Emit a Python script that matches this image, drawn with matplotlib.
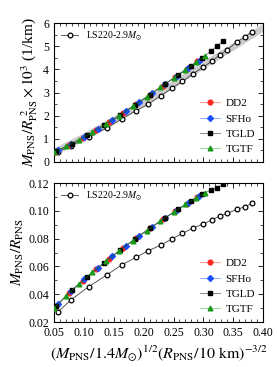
import matplotlib
matplotlib.use("Agg")
import matplotlib.pyplot as plt
from matplotlib.ticker import MultipleLocator, FormatStrFormatter

plt.rcParams['font.family'] = ['Liberation Serif', 'DejaVu Serif']
plt.rcParams['mathtext.fontset'] = 'stix'

# LS220-2.9Msun (open circles)
ls_x = [0.057, 0.078, 0.108, 0.138, 0.163, 0.187, 0.208, 0.229, 0.247,
        0.265, 0.282, 0.299, 0.314, 0.327, 0.340, 0.356, 0.370, 0.381]
ls_top = [0.44, 0.70, 1.07, 1.46, 1.85, 2.21, 2.50, 2.86, 3.18,
          3.48, 3.80, 4.09, 4.35, 4.61, 4.85, 5.18, 5.41, 5.62]
ls_bot = [0.0274, 0.0358, 0.0454, 0.0538, 0.0610, 0.0665, 0.0713, 0.0754, 0.0797,
          0.0838, 0.0874, 0.0905, 0.0934, 0.0962, 0.0982, 0.1010, 0.1030, 0.1054]

dd2_x = [0.052, 0.075, 0.098, 0.120, 0.142, 0.165, 0.188, 0.210, 0.232, 0.252, 0.272, 0.290]
dd2_top = [0.45, 0.73, 1.04, 1.38, 1.73, 2.10, 2.50, 2.90, 3.30, 3.66, 4.02, 4.34]
dd2_bot = [0.0310, 0.0408, 0.0497, 0.0578, 0.0655, 0.0732, 0.0806, 0.0875, 0.0938,
           0.0996, 0.1052, 0.1100]

sfho_x = [0.056, 0.078, 0.101, 0.124, 0.147, 0.170, 0.192, 0.214, 0.236, 0.256, 0.275, 0.292]
sfho_top = [0.50, 0.77, 1.08, 1.44, 1.81, 2.19, 2.58, 2.97, 3.37, 3.73, 4.07, 4.38]
sfho_bot = [0.0327, 0.0420, 0.0509, 0.0592, 0.0672, 0.0748, 0.0818, 0.0885, 0.0950,
            0.1006, 0.1059, 0.1105]

tgld_x = [0.053, 0.080, 0.106, 0.134, 0.160, 0.186, 0.210, 0.235, 0.258, 0.280,
          0.298, 0.312, 0.322, 0.333]
tgld_top = [0.46, 0.79, 1.16, 1.60, 2.02, 2.47, 2.90, 3.35, 3.76, 4.16,
            4.50, 4.78, 4.99, 5.24]
tgld_bot = [0.0313, 0.0428, 0.0527, 0.0627, 0.0715, 0.0799, 0.0873, 0.0946, 0.1012,
            0.1073, 0.1121, 0.1148, 0.1166, 0.1190]

tgtf_x = [0.050, 0.070, 0.092, 0.114, 0.137, 0.159, 0.182, 0.205, 0.228, 0.250,
          0.270, 0.288, 0.303]
tgtf_top = [0.42, 0.67, 0.96, 1.28, 1.65, 2.00, 2.40, 2.81, 3.22, 3.62,
            3.98, 4.30, 4.58]
tgtf_bot = [0.0300, 0.0388, 0.0475, 0.0557, 0.0638, 0.0712, 0.0786, 0.0858, 0.0926,
            0.0990, 0.1046, 0.1094, 0.1128]

# grey fit band in the upper panel
band_x = [0.05, 0.10, 0.15, 0.20, 0.25, 0.30, 0.35, 0.40]
band_lo = [0.28, 0.93, 1.65, 2.41, 3.21, 4.03, 4.83, 5.65]
band_hi = [0.62, 1.27, 1.99, 2.75, 3.55, 4.37, 5.17, 5.99]

series = [
    ("DD2", dd2_x, dd2_top, dd2_bot, (1.0, 0.15, 0.1), 'o'),
    ("SFHo", sfho_x, sfho_top, sfho_bot, (0.1, 0.3, 1.0), 'D'),
    ("TGLD", tgld_x, tgld_top, tgld_bot, (0.0, 0.0, 0.0), 's'),
    ("TGTF", tgtf_x, tgtf_top, tgtf_bot, (0.1, 0.6, 0.1), '^'),
]

fig = plt.figure(figsize=(2.77, 3.67), dpi=100)
ax1 = fig.add_axes([0.195, 0.5586, 0.755, 0.3787])
ax2 = fig.add_axes([0.195, 0.1226, 0.755, 0.3787])

ax1.fill_between(band_x, band_lo, band_hi, color='0.8', lw=0, zorder=1)

for ax, key in [(ax1, 2), (ax2, 3)]:
    ls_y = ls_top if key == 2 else ls_bot
    h0, = ax.plot(ls_x, ls_y, '-', color='0.25', lw=0.6, marker='o', ms=3.4,
                  mfc='white', mec='black', mew=0.9, zorder=3,
                  label=r'LS220-2.9$M_{\odot}$')
    hs = []
    for s in series:
        name, xs, col, mk = s[0], s[1], s[4], s[5]
        h, = ax.plot(xs, s[key], '-', color=col + (0.45,), lw=0.7, marker=mk,
                     ms=3.4 if mk != 'D' else 3.0, mfc=col, mec=col, zorder=4,
                     label=name)
        hs.append(h)
    leg1 = ax.legend(handles=[h0], loc='upper left', frameon=False, fontsize=7,
                     handlelength=1.8, borderaxespad=0.3)
    ax.add_artist(leg1)
    ax.legend(handles=hs, loc='lower right', frameon=False, fontsize=8,
              handlelength=1.8, handletextpad=0.5, labelspacing=0.5,
              borderaxespad=0.3)

    ax.set_xlim(0.05, 0.40)
    ax.xaxis.set_major_locator(MultipleLocator(0.05))
    ax.xaxis.set_minor_locator(MultipleLocator(0.01))
    ax.xaxis.set_major_formatter(FormatStrFormatter('%.2f'))
    ax.tick_params(which='both', direction='in', top=True, right=True, labelsize=8.5)
    ax.tick_params(which='major', length=3.5, width=0.6)
    ax.tick_params(which='minor', length=2, width=0.5)
    for sp in ax.spines.values():
        sp.set_linewidth(0.8)

ax1.set_ylim(0, 6)
ax1.yaxis.set_major_locator(MultipleLocator(1))
ax1.yaxis.set_minor_locator(MultipleLocator(0.5))
ax1.tick_params(labelbottom=False)
ax1.set_ylabel(r'$M_{\rm PNS}/R_{\rm PNS}^{\ 2}\times10^3$ (1/km)', fontsize=11, labelpad=2)

ax2.set_ylim(0.02, 0.12)
ax2.yaxis.set_major_locator(MultipleLocator(0.02))
ax2.yaxis.set_minor_locator(MultipleLocator(0.01))
ax2.yaxis.set_major_formatter(FormatStrFormatter('%.2f'))
ax2.set_ylabel(r'$M_{\rm PNS}/R_{\rm PNS}$', fontsize=11, labelpad=2)
ax2.set_xlabel(r'$(M_{\rm PNS}/1.4M_{\odot})^{1/2}(R_{\rm PNS}/10\ {\rm km})^{-3/2}$',
               fontsize=11.5, labelpad=3)

fig.savefig('out.png', dpi=100)
